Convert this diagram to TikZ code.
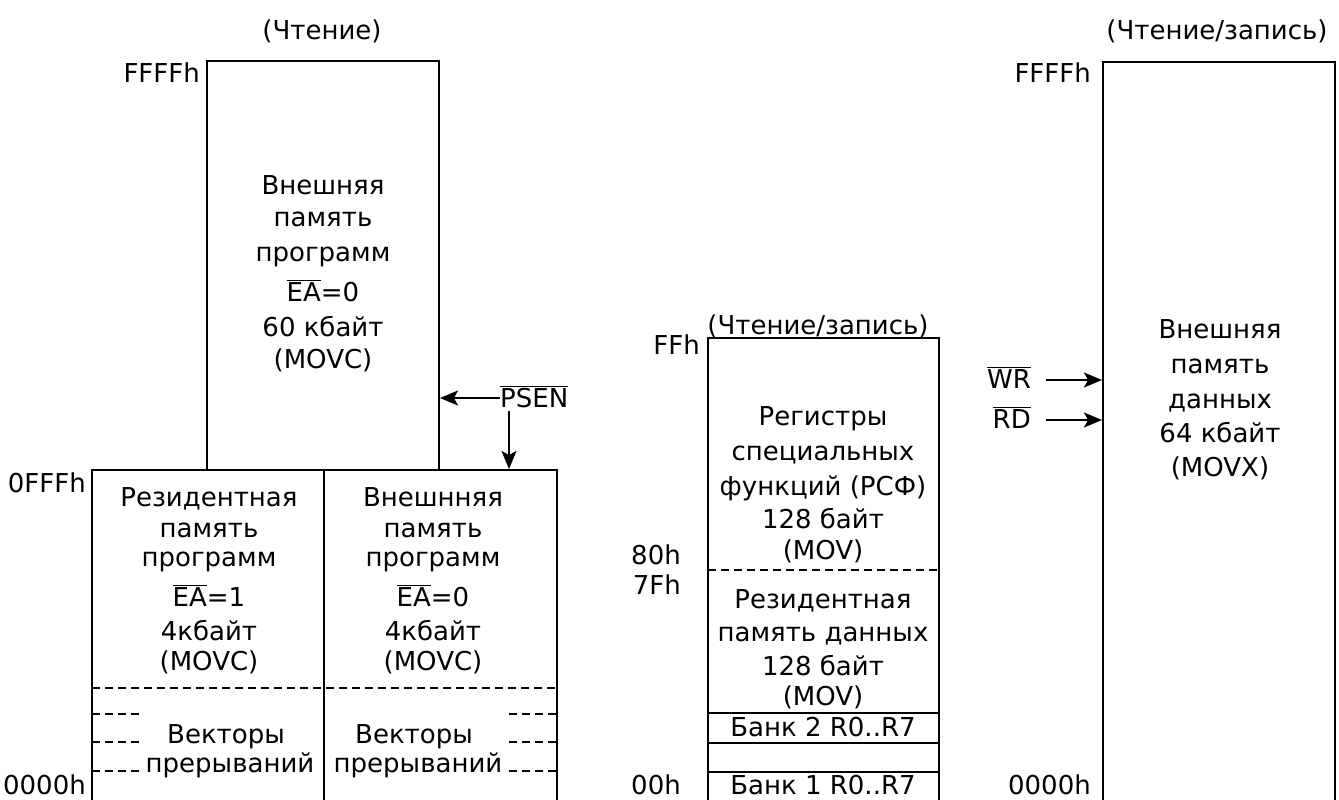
\documentclass[tikz,border=0pt]{standalone}
\usepackage{fontspec}
\setmainfont{DejaVu Sans}
\usetikzlibrary{arrows.meta}
\newcommand\ovl[1]{$\overline{\mbox{#1}}$}
\tikzset{
  box/.style={line width=1.6pt},
  dsh/.style={line width=1.2pt, dash pattern=on 8pt off 5pt},
  lbl/.style={inner sep=0pt, anchor=base, font=\fontsize{26}{30}\selectfont},
  rlbl/.style={inner sep=0pt, anchor=base east, font=\fontsize{26}{30}\selectfont},
  llbl/.style={inner sep=0pt, anchor=base west, font=\fontsize{26}{30}\selectfont},
  arr/.style={line width=1.4pt, -{Stealth[length=18pt,width=15pt,inset=4pt]}}
}
\begin{document}
\begin{tikzpicture}[x=1pt,y=-1pt]
\useasboundingbox (0,0) rectangle (1339,800);
% ---------- program memory ----------
\draw[box] (207,470) -- (207,61) -- (439,61) -- (439,470);
\draw[box] (92,800) -- (92,470) -- (557,470) -- (557,800);
\draw[box] (324,470) -- (324,800);
\draw[dsh] (92,688) -- (557,688);
\foreach \y in {714,742,771} {
  \draw[dsh] (92,\y) -- (140,\y);
  \draw[dsh] (509,\y) -- (557,\y);
}
\node[lbl] (t0) at (322,40) {(Чтение)};
\node[rlbl] (a1) at (200,82) {FFFFh};
\node[rlbl] (a2) at (86,492) {0FFFh};
\node[rlbl] (a3) at (86,794) {0000h};
\foreach \y/\t [count=\i] in {194/Внешняя, 226/память, 261/программ, 301/{\ovl{EA}=0}, 336/60 кбайт, 368/(MOVC)}
  \node[lbl] (tb\i) at (323,\y) {\t};
\foreach \y/\t [count=\i] in {506/Резидентная, 537/память, 566/программ, 606/{\ovl{EA}=1}, 640/4кбайт, 670/(MOVC)}
  \node[lbl] (lc\i) at (209,\y) {\t};
\foreach \y/\t [count=\i] in {506/Внешнняя, 537/память, 566/программ, 606/{\ovl{EA}=0}, 640/4кбайт, 670/(MOVC)}
  \node[lbl] (rc\i) at (433,\y) {\t};
\node[lbl] (v1) at (226,743) {Векторы};
\node[lbl] (v2) at (230,772) {прерываний};
\node[lbl] (v3) at (414,743) {Векторы};
\node[lbl] (v4) at (418,772) {прерываний};
% PSEN
\node[llbl] (psen) at (500,407) {\ovl{PSEN}};
\coordinate (pl) at (440,398);
\coordinate (pd) at (509,469);
\draw[arr] (psen.west |- pl) -- (pl);
\draw[arr] (psen.south -| pd) ++(0,3) -- (pd);
% ---------- internal data memory ----------
\draw[box] (708,800) -- (708,338) -- (939,338) -- (939,800);
\draw[dsh] (708,570) -- (939,570);
\draw[box] (708,713) -- (939,713);
\draw[box] (708,743) -- (939,743);
\draw[box] (708,772) -- (939,772);
\node[lbl] (t1) at (818,334) {(Чтение/запись)};
\node[rlbl] (b1) at (700,354) {FFh};
\node[rlbl] (b2) at (681,564) {80h};
\node[rlbl] (b3) at (681,594) {7Fh};
\node[rlbl] (b4) at (681,794) {00h};
\foreach \y/\t [count=\i] in {425/Регистры, 460/специальных, 495/функций (РСФ), 528/128 байт, 559/(MOV), 608/Резидентная, 641/память данных, 675/128 байт, 705/(MOV), 736/Банк 2 R0..R7, 794/Банк 1 R0..R7}
  \node[lbl] (m\i) at (823,\y) {\t};
% ---------- external data memory ----------
\draw[box] (1103,800) -- (1103,62) -- (1335,62) -- (1335,800);
\node[lbl] (t2) at (1217,40) {(Чтение/запись)};
\node[rlbl] (c1) at (1091,82) {FFFFh};
\node[rlbl] (c2) at (1091,794) {0000h};
\foreach \y/\t [count=\i] in {338/Внешняя, 373/память, 408/данных, 442/64 кбайт, 476/(MOVX)}
  \node[lbl] (x\i) at (1220,\y) {\t};
\node[rlbl] (wr) at (1031,388) {\ovl{WR}};
\node[rlbl] (rd) at (1031,428) {\ovl{RD}};
\coordinate (wre) at (1102,380);
\coordinate (rde) at (1102,420);
\coordinate (wrs) at (1046,380);
\coordinate (rds) at (1046,420);
\draw[arr] (wrs) -- (wre);
\draw[arr] (rds) -- (rde);
\end{tikzpicture}
\end{document}
